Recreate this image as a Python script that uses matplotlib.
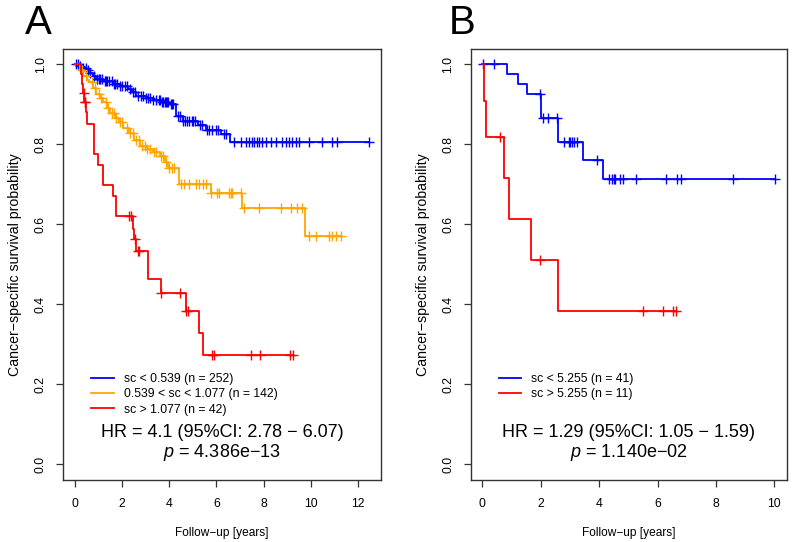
import numpy as np
import matplotlib
matplotlib.use("Agg")
import matplotlib.pyplot as plt

plt.rcParams['font.family'] = ['Liberation Sans', 'DejaVu Sans']
plt.rcParams['mathtext.fontset'] = 'custom'
plt.rcParams['mathtext.it'] = 'Liberation Sans:italic'
plt.rcParams['mathtext.rm'] = 'Liberation Sans'

# ---------------- Panel A data ----------------
a_blue_t = [0, 0.15, 0.3, 0.47, 0.6, 0.75, 0.89, 1.2, 1.6, 1.9, 2.23, 2.4, 2.58, 3.0, 3.29, 3.7,
            4.0, 4.3, 4.56, 5.2, 5.55, 6.2, 6.58, 12.47]
a_blue_s = [1.0, 0.995, 0.99, 0.985, 0.978, 0.971, 0.964, 0.958, 0.952, 0.946, 0.939, 0.93, 0.922,
            0.916, 0.912, 0.906, 0.9, 0.872, 0.858, 0.848, 0.837, 0.825, 0.806, 0.806]
a_blue_cens = [0.05, 0.12, 0.2, 0.35, 0.45, 0.55, 0.65, 0.8, 0.95, 1.0, 1.05, 1.15, 1.25, 1.3, 1.35,
               1.45, 1.55, 1.65, 1.7, 1.8, 1.9, 2.0, 2.1, 2.2, 2.35, 2.45, 2.55, 2.65, 2.8, 2.9, 3.0,
               3.1, 3.2, 3.3, 3.45, 3.55, 3.6, 3.7, 3.75, 3.8, 3.85, 3.9, 3.95, 4.05, 4.1, 4.15,
               4.35, 4.45, 4.6, 4.65, 4.75, 4.85, 4.95, 5.0, 5.1, 5.3, 5.4, 5.6, 5.7, 5.8, 6.0,
               6.05, 6.3, 6.4, 6.75, 7.03, 7.24, 7.39, 7.5, 7.6, 7.71, 7.81, 7.95, 8.09, 8.3, 8.52,
               8.77, 8.94, 9.08, 9.22, 9.36, 9.5, 9.93, 10.49, 10.89, 11.13, 12.47]

a_orange_t = [0, 0.2, 0.35, 0.5, 0.6, 0.75, 0.9, 1.05, 1.2, 1.35, 1.5, 1.7, 1.85, 2.05, 2.3, 2.5,
              2.75, 3.0, 3.3, 3.6, 3.8, 3.95, 4.39, 5.76, 7.08, 9.76, 11.27]
a_orange_s = [1.0, 0.985, 0.97, 0.962, 0.955, 0.94, 0.925, 0.915, 0.905, 0.89, 0.878, 0.865, 0.855,
              0.84, 0.828, 0.81, 0.795, 0.788, 0.78, 0.77, 0.755, 0.74, 0.702, 0.678, 0.642, 0.57, 0.57]
a_orange_cens = [0.3, 0.45, 0.7, 0.85, 1.0, 1.1, 1.3, 1.4, 1.55, 1.65, 1.75, 1.9, 2.0, 2.2, 2.35,
                 2.45, 2.6, 2.7, 2.85, 2.95, 3.05, 3.2, 3.35, 3.45, 3.65, 3.75, 3.85, 4.0, 4.1, 4.2,
                 4.49, 4.63, 4.84, 5.13, 5.27, 5.41, 5.55, 5.76, 6.04, 6.11, 6.54, 6.61, 6.68, 7.03,
                 7.17, 7.81, 8.73, 9.15, 9.43, 9.64, 9.93, 10.21, 10.78, 10.92, 11.06, 11.27]

a_red_t = [0, 0.25, 0.3, 0.33, 0.38, 0.45, 0.5, 0.82, 0.96, 1.17, 1.6, 1.74, 2.44, 2.5, 2.6, 3.08,
           3.64, 4.7, 5.24, 5.41, 9.26]
a_red_s = [1.0, 0.976, 0.952, 0.929, 0.905, 0.88, 0.852, 0.777, 0.748, 0.698, 0.67, 0.62, 0.589,
           0.562, 0.533, 0.462, 0.427, 0.383, 0.329, 0.2725, 0.2725]
a_red_cens = [0.36, 0.41, 0.43, 2.27, 2.37, 2.56, 2.65, 2.72, 3.66, 4.45, 4.72, 4.81, 5.83, 5.9,
              7.46, 7.85, 9.11, 9.26]

a_labels = ["sc < 0.539 (n = 252)", "0.539 < sc < 1.077 (n = 142)", "sc > 1.077 (n = 42)"]
a_hr = "HR = 4.1 (95%CI: 2.78 \u2212 6.07)"
a_p = "$p$ = 4.386e\u221213"

# ---------------- Panel B data ----------------
b_blue_t = [0, 0.84, 1.21, 1.52, 2.01, 2.58, 3.44, 4.14, 10.02]
b_blue_s = [1.0, 0.976, 0.951, 0.927, 0.867, 0.805, 0.761, 0.7125, 0.7125]
b_blue_cens = [0.01, 0.38, 1.98, 2.07, 2.26, 2.55, 2.8, 2.95, 3.0, 3.06, 3.12, 3.25, 3.92, 4.32,
               4.43, 4.49, 4.54, 4.72, 4.83, 5.27, 6.29, 6.66, 6.81, 8.58, 10.02]

b_red_t = [0, 0.07, 0.12, 0.74, 0.91, 1.67, 2.6, 6.62]
b_red_s = [1.0, 0.909, 0.818, 0.716, 0.614, 0.511, 0.383, 0.383]
b_red_cens = [0.61, 1.98, 5.51, 6.2, 6.54, 6.62]

b_labels = ["sc < 5.255 (n = 41)", "sc > 5.255 (n = 11)"]
b_hr = "HR = 1.29 (95%CI: 1.05 \u2212 1.59)"
b_p = "$p$ = 1.140e\u221202"

colors = {"blue": "#0000FF", "orange": "#FFA500", "red": "#FF0000"}

W, H = 796, 542
fig = plt.figure(figsize=(W / 100, H / 100), dpi=100)


def px_axes(l, r, t, b):
    return fig.add_axes([l / W, 1 - b / H, (r - l) / W, (b - t) / H])


def km(ax, t, s, cens, color, label):
    t = np.asarray(t); s = np.asarray(s)
    ax.step(t, s, where='post', color=color, lw=1.3, label=label)
    c = np.asarray(cens)
    idx = np.searchsorted(t, c, side='right') - 1
    ax.plot(c, s[idx], linestyle='none', marker='+', color=color, ms=7, mew=1.0)


def style(ax, xmax, xticks, labels, hr, p):
    ax.set_ylim(-0.04, 1.04)
    ax.set_xlim(-0.04 * xmax, 1.04 * xmax)
    ax.set_xticks(xticks)
    ax.set_xticklabels([str(v) for v in xticks])
    yt = [0, 0.2, 0.4, 0.6, 0.8, 1.0]
    ax.set_yticks(yt)
    ax.set_yticklabels(["%.1f" % v for v in yt], rotation=90, va='center')
    for sp in ax.spines.values():
        sp.set_color('#333333'); sp.set_linewidth(1.0)
    ax.tick_params(axis='both', length=5, width=0.9, color='#333333', labelsize=8.8)
    ax.tick_params(axis='x', pad=8)
    ax.tick_params(axis='y', pad=7)
    ax.set_xlabel("Follow\u2212up [years]", fontsize=8.6, labelpad=12)
    ax.set_ylabel("Cancer\u2212specific survival probability", fontsize=10.2, labelpad=9)
    ax.legend(loc='upper left', bbox_to_anchor=(0.088, 0.247), frameon=False, fontsize=8.8,
              handlelength=1.85, handletextpad=0.8, labelspacing=0.25, borderpad=0,
              borderaxespad=0)
    ax.text(0.5, 0.11, hr, transform=ax.transAxes, ha='center', va='center', fontsize=13)
    ax.text(0.5, 0.064, p, transform=ax.transAxes, ha='center', va='center', fontsize=13)


axA = px_axes(63.3, 380.7, 48.5, 480)
km(axA, a_blue_t, a_blue_s, a_blue_cens, colors['blue'], a_labels[0])
km(axA, a_orange_t, a_orange_s, a_orange_cens, colors['orange'], a_labels[1])
km(axA, a_red_t, a_red_s, a_red_cens, colors['red'], a_labels[2])
style(axA, 12.47, [0, 2, 4, 6, 8, 10, 12], a_labels, a_hr, a_p)

axB = px_axes(470.7, 786.7, 48.5, 480)
km(axB, b_blue_t, b_blue_s, b_blue_cens, colors['blue'], b_labels[0])
km(axB, b_red_t, b_red_s, b_red_cens, colors['red'], b_labels[1])
style(axB, 10.02, [0, 2, 4, 6, 8, 10], b_labels, b_hr, b_p)

fig.text(25 / W, 1 - 34 / H, "A", fontsize=29, ha='left', va='baseline')
fig.text(449 / W, 1 - 34 / H, "B", fontsize=29, ha='left', va='baseline')

fig.savefig("out.png", dpi=100)
